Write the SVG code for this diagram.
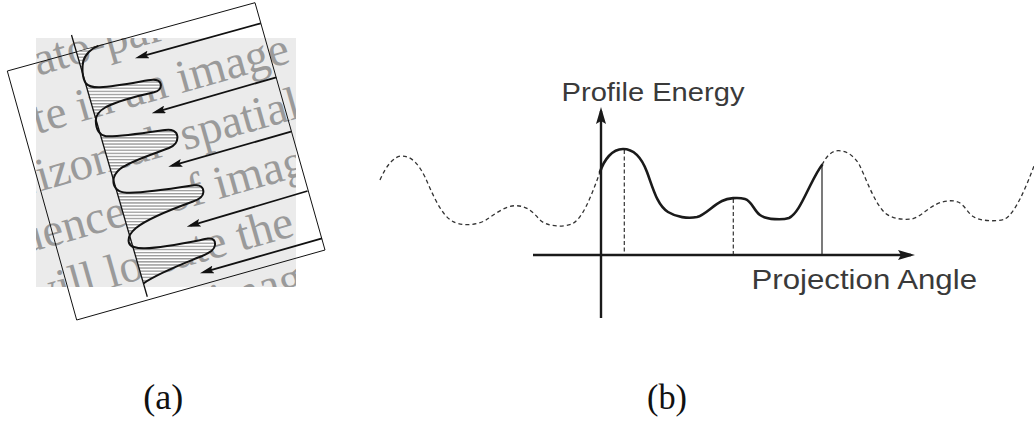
<svg xmlns="http://www.w3.org/2000/svg" width="1034" height="421" viewBox="0 0 1034 421">
  <style>
    .bgtxt { font-family: "Liberation Serif", "Times New Roman", serif; font-size: 47px; fill: #9a9a9a; }
    .frame { fill: none; stroke: #111; stroke-width: 1; }
    .prof { fill: none; stroke: #111; stroke-width: 2; stroke-linejoin: round; }
    .arrA { stroke: #111; stroke-width: 1.8; fill: none; }
    .axis { stroke: #1a1a1a; stroke-width: 2.4; fill: none; }
    .solid { fill: none; stroke: #1a1a1a; stroke-width: 2.6; stroke-linecap: round; }
    .dash { fill: none; stroke: #333; stroke-width: 1.3; stroke-dasharray: 4 3; }
    .vdash { stroke: #333; stroke-width: 1.2; stroke-dasharray: 4 2.5; }
    .sans { font-family: "Liberation Sans", Arial, sans-serif; fill: #3a3a3a; }
    .cap { font-family: "Liberation Serif", "Times New Roman", serif; font-size: 36px; fill: #111; }
  </style>
  <defs>
    <clipPath id="greyClip">
      <rect x="36" y="38" width="260" height="249"/>
    </clipPath>
    <pattern id="hatch" width="6" height="3.1" patternUnits="userSpaceOnUse">
      <rect width="6" height="3.1" fill="#fff"/>
      <line x1="0" y1="1.5" x2="6" y2="1.5" stroke="#222" stroke-width="0.7"/>
    </pattern>
    <marker id="ahA" viewBox="0 0 14 8" refX="10" refY="4" markerWidth="14" markerHeight="8" markerUnits="userSpaceOnUse" orient="auto">
      <path d="M0,0 L14,4 L0,8 L2.5,4 Z" fill="#111"/>
    </marker>
    <marker id="ahB" viewBox="0 0 17 10" refX="13" refY="5" markerWidth="17" markerHeight="10" markerUnits="userSpaceOnUse" orient="auto">
      <path d="M0,0 L17,5 L0,10 L3,5 Z" fill="#1a1a1a"/>
    </marker>
  </defs>

  <rect width="1034" height="421" fill="#fff"/>

  <!-- Panel (a) -->
  <g id="panel-a">
    <g id="grey-image">
      <rect x="36" y="38" width="260" height="249" fill="#ebebeb"/>
      <g clip-path="url(#greyClip)">
        <g transform="translate(166,161) rotate(-15.8)" class="bgtxt">
          <text x="-100" y="-117">ato-parts</text>
          <text x="-117" y="-61">te in an image is</text>
          <text y="-5"><tspan x="-144.7">rizontal</tspan><tspan x="21">spatial</tspan></text>
          <text y="51"><tspan x="-186">quence</tspan><tspan x="-10.9">of image</tspan></text>
          <text y="107"><tspan x="-172.9">will lo</tspan><tspan x="-39.8">cate the</tspan></text>
          <text x="5" y="163">image</text>
        </g>
      </g>
    </g>
    <g id="projection-frame">
      <polygon class="frame" points="7.3,71 255,2.7 325,250 76.7,320"/>
    </g>
    <g id="profile">
      <path fill="url(#hatch)" stroke="none" d="M76.4,52 L98.3,45.9
        C92,48 85,54 83.2,61.5
        C82,68 82,78 86,83.5
        C89,87 93,87.5 100,87.3
        C115,86.5 135,82.5 148,80.3
        C154,79.3 159.5,79.5 160.7,84
        C161.5,88.5 159,91 154,92.3
        C140,95.5 118,101 106,107
        C99,111 95.5,115 95.8,121
        C96,129 99,135 106,136.3
        C120,137 148,132.5 165,130
        C172,129 177,131 177.4,136.5
        C177.8,142 175,145.5 169,148
        C155,153.5 130,161 120,169
        C114,174 112.5,180 114,185
        C116,191 121,192.7 130,192.8
        C150,192.5 180,187.5 194,185.3
        C200,184.5 203.5,187 203.4,192
        C203.3,196.5 200.5,199 193,201.5
        C175,208 148,218 136,228
        C130,233 127.5,238 129,243
        C131,247.5 136,248.5 145,248.3
        C165,247.5 195,241 208,238.6
        C213.5,237.8 215.5,241 215,245
        C214.5,249.5 211,252 202,256
        C185,263 160,272 143.5,283.3 Z"/>
      <path class="prof" d="M98.3,45.9
        C92,48 85,54 83.2,61.5
        C82,68 82,78 86,83.5
        C89,87 93,87.5 100,87.3
        C115,86.5 135,82.5 148,80.3
        C154,79.3 159.5,79.5 160.7,84
        C161.5,88.5 159,91 154,92.3
        C140,95.5 118,101 106,107
        C99,111 95.5,115 95.8,121
        C96,129 99,135 106,136.3
        C120,137 148,132.5 165,130
        C172,129 177,131 177.4,136.5
        C177.8,142 175,145.5 169,148
        C155,153.5 130,161 120,169
        C114,174 112.5,180 114,185
        C116,191 121,192.7 130,192.8
        C150,192.5 180,187.5 194,185.3
        C200,184.5 203.5,187 203.4,192
        C203.3,196.5 200.5,199 193,201.5
        C175,208 148,218 136,228
        C130,233 127.5,238 129,243
        C131,247.5 136,248.5 145,248.3
        C165,247.5 195,241 208,238.6
        C213.5,237.8 215.5,241 215,245
        C214.5,249.5 211,252 202,256
        C185,263 160,272 143.5,283.3"/>
      <line x1="71.5" y1="35" x2="147.3" y2="296.7" stroke="#111" stroke-width="1.3"/>
    </g>
    <g id="arrows-a">
      <line class="arrA" x1="260.8" y1="23.3" x2="138.85" y2="57.2" marker-end="url(#ahA)"/>
      <line class="arrA" x1="276.3" y1="77.3" x2="155.55" y2="112.2" marker-end="url(#ahA)"/>
      <line class="arrA" x1="291" y1="131.7" x2="172.15" y2="165.6" marker-end="url(#ahA)"/>
      <line class="arrA" x1="307.5" y1="191" x2="190.55" y2="225.6" marker-end="url(#ahA)"/>
      <line class="arrA" x1="322" y1="238.3" x2="203.85" y2="272.2" marker-end="url(#ahA)"/>
    </g>
  </g>

  <!-- Panel (b) -->
  <g id="panel-b">
    <g id="axes-b">
      <line class="axis" x1="601" y1="318" x2="601" y2="111" marker-end="url(#ahB)"/>
      <line class="axis" x1="533" y1="255" x2="911" y2="255" marker-end="url(#ahB)"/>
    </g>
    <g id="markers-b">
      <line class="vdash" x1="624.3" y1="150" x2="624.3" y2="254"/>
      <line class="vdash" x1="733.3" y1="199" x2="733.3" y2="254"/>
      <line x1="822" y1="165" x2="822" y2="254" stroke="#222" stroke-width="1.2"/>
    </g>
    <g id="curves-b">
      <path class="dash" d="M380,180 C386,166 394,156 402,156 C412,156 419,165 425,177 C431,190 440,214 452,221 C460,226 476,226 486,220 C495,214 505,206 515,205.7 C527,205.5 533,212 540,220 C546,226 562,228 572,224 C582,219 590,200 600,172"/>
      <path class="solid" d="M600,172 C604,160 612,149 623,149 C633,149 641,156 647,172 C653,188 657,205 668,212 C676,217 688,219 697,217 C705,215 712,206 722,201 C728,198 738,197 745,199 C752,201 754,211 760,215 C767,220 783,220 789,218 C797,214 803,200 810,186 C814,178 818,170 822,165"/>
      <path class="dash" d="M822,165 C826,157 831,151 838,150.7 C846,150.5 853,155 859,164 C866,178 873,200 884,212 C891,219 903,220 912,219 C920,217 927,209 935,205 C940,202 950,199 958,202 C965,205 968,214 974,217 C980,221 997,222 1005,219 C1015,213 1025,190 1034,166"/>
    </g>
    <g id="axis-labels-b">
      <text class="sans" x="561.5" y="101" font-size="26" textLength="183" lengthAdjust="spacingAndGlyphs">Profile Energy</text>
      <text class="sans" x="751.5" y="289.3" font-size="28" textLength="225.5" lengthAdjust="spacingAndGlyphs">Projection Angle</text>
    </g>
  </g>

  <g id="captions">
    <text class="cap" x="143.3" y="409" textLength="40" lengthAdjust="spacingAndGlyphs">(a)</text>
    <text class="cap" x="647" y="409" textLength="40" lengthAdjust="spacingAndGlyphs">(b)</text>
  </g>
</svg>
